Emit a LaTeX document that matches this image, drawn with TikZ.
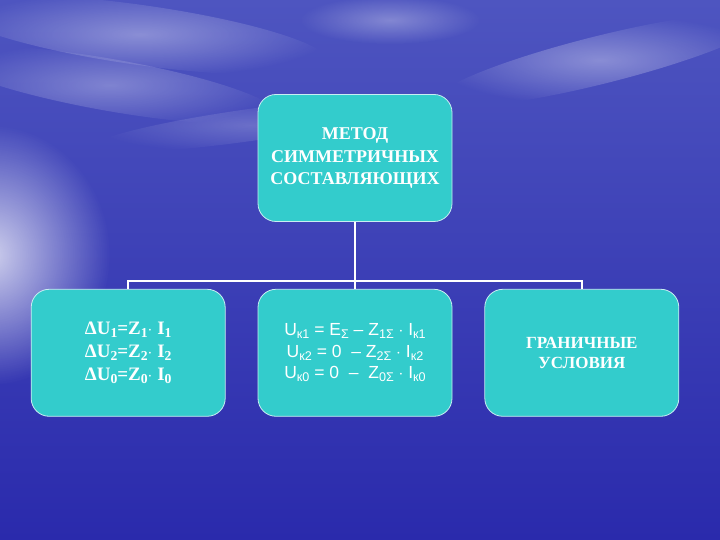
\documentclass[tikz,border=0pt]{standalone}
\usepackage{fontspec}
\setmainfont{Liberation Serif}
\setsansfont{Liberation Sans}
\usepackage{xcolor}
\usepackage{graphicx}
\usetikzlibrary{positioning,fadings}

\definecolor{boxteal}{RGB}{51,204,204}
\definecolor{boxrim}{RGB}{200,238,242}
\definecolor{skytop}{RGB}{78,85,192}
\definecolor{skymid}{RGB}{100,102,205}
\definecolor{skylow}{RGB}{42,42,172}

\tikzfading[name=glow, inner color=transparent!0, outer color=transparent!100]

\newcommand{\lowidx}[1]{\raisebox{-0.3ex}{\scalebox{0.72}{#1}}}

\begin{document}
\begin{tikzpicture}[x=1pt, y=1pt, thick,
    main/.style = {draw=boxrim, line width=0.8pt, fill=boxteal, rounded corners=18pt,
                   minimum width=194pt, minimum height=127pt, text=white, align=center},
    cloud/.style = {fill=white, path fading=glow},
    link/.style = {draw=white, line width=1.6pt}]
    \useasboundingbox (0,0) rectangle (720,540);

    % sky and sea behind the chart
    \shade[top color=skytop, middle color=skymid, bottom color=skylow] (0,0) rectangle (720,540);
    \fill[cloud, opacity=0.75] (-10,285) ellipse (120 and 130);
    \fill[cloud, opacity=0.35, rotate around={-8:(140,505)}] (140,505) ellipse (190 and 30);
    \fill[cloud, opacity=0.30, rotate around={-10:(110,455)}] (110,455) ellipse (170 and 26);
    \fill[cloud, opacity=0.30] (390,520) ellipse (90 and 24);
    \fill[cloud, opacity=0.35, rotate around={14:(600,480)}] (600,480) ellipse (170 and 24);
    \fill[cloud, opacity=0.20, rotate around={8:(250,415)}] (250,415) ellipse (160 and 16);

    \node[main, font=\fontsize{18}{22.5}\selectfont\bfseries] (1) at (355,382)
        {МЕТОД\\ СИММЕТРИЧНЫХ\\ СОСТАВЛЯЮЩИХ};
    \node[main, font=\fontsize{17.5}{21.5}\selectfont\sffamily] (3) [below=67pt of 1]
        {U\lowidx{к1} = E\lowidx{Σ} -- Z\lowidx{1Σ} $\cdot$ I\lowidx{к1}\\
         U\lowidx{к2} = 0 \ -- Z\lowidx{2Σ} $\cdot$ I\lowidx{к2}\\
         U\lowidx{к0} = 0 \ -- \ Z\lowidx{0Σ} $\cdot$ I\lowidx{к0}};
    \node[main, font=\fontsize{19}{23}\selectfont\bfseries] (2) [left=32pt of 3]
        {ΔU\lowidx{1}=Z\lowidx{1}$\cdot$ I\lowidx{1}\\
         ΔU\lowidx{2}=Z\lowidx{2}$\cdot$ I\lowidx{2}\\
         ΔU\lowidx{0}=Z\lowidx{0}$\cdot$ I\lowidx{0}};
    \node[main, font=\fontsize{17}{20}\selectfont\bfseries] (4) [right=32pt of 3]
        {ГРАНИЧНЫЕ\\ УСЛОВИЯ};

    \draw[link] (1) -- (3);
    \draw[link] (2) |- ([yshift=8pt]3.north) -| (4);

\end{tikzpicture}
\end{document}
